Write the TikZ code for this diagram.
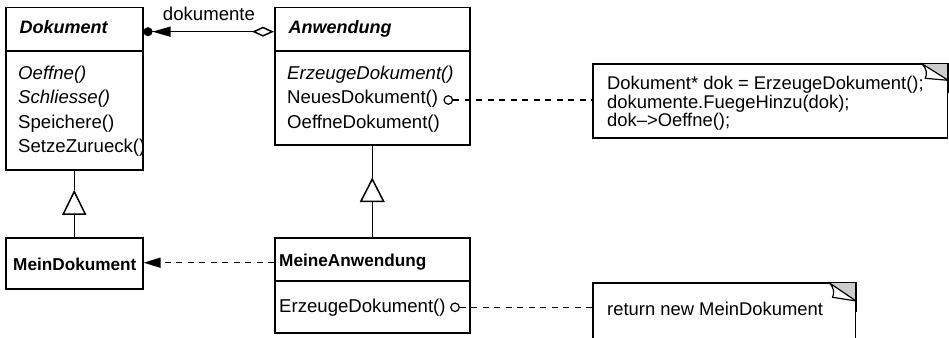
\documentclass[tikz,border=0pt]{standalone}
\usepackage{fontspec}
\setmainfont{Liberation Sans}
\usetikzlibrary{arrows.meta,calc}

\tikzset{
  umlline/.style={line width=1.5pt},
  classbox/.style={draw, line width=1.5pt, anchor=north west, inner sep=0pt},
  notebox/.style={draw, line width=1.5pt, anchor=north west, inner sep=0pt, fill=white},
  txt/.style={anchor=base west, inner sep=0pt, font=\fontsize{18.6}{22}\selectfont},
  ittxt/.style={txt, font=\fontsize{18.6}{22}\selectfont\itshape},
  abstitle/.style={anchor=base west, inner sep=0pt, font=\fontsize{18}{22}\selectfont\bfseries\itshape},
  conctitle/.style={anchor=base west, inner sep=0pt, font=\fontsize{17.2}{22}\selectfont\bfseries},
  codetxt/.style={anchor=base west, inner sep=0pt, font=\fontsize{18.4}{22}\selectfont},
  dep/.style={line width=1.4pt, dash pattern=on 6pt off 5.5pt},
  pinmark/.style={circle, draw, line width=1.2pt, fill=white, minimum size=8.5pt, inner sep=0pt},
  gentip/.style={-{Triangle[open, length=25pt, width=24pt, fill=white]}},
}

\begin{document}
\begin{tikzpicture}[x=1pt, y=-1pt]
\useasboundingbox (0,0) rectangle (949,337);
\clip (0,0) rectangle (949,337);

% ---- class boxes ----
\node[classbox, minimum width=137pt, minimum height=162pt] (dok) at (5,7) {};
\node[classbox, minimum width=195pt, minimum height=137pt] (anw) at (274,7) {};
\node[classbox, minimum width=137pt, minimum height=51pt] (mdok) at (5,237) {};
\node[classbox, minimum width=195pt, minimum height=95pt] (manw) at (274,237) {};

% compartment dividers
\draw[umlline] ($(dok.north west)+(0,44)$) -- ($(dok.north east)+(0,44)$);
\draw[umlline] ($(anw.north west)+(0,44)$) -- ($(anw.north east)+(0,44)$);
\draw[umlline] ($(manw.north west)+(0,44)$) -- ($(manw.north east)+(0,44)$);

% ---- class texts ----
\node[abstitle] (dokT) at (19.5,33.5) {Dokument};
\node[ittxt] (dokM1) at (18,79.3) {Oeffne()};
\node[ittxt] (dokM2) at (18,103.8) {Schliesse()};
\node[txt] (dokM3) at (18,128.3) {Speichere()};
\node[txt] (dokM4) at (18,152.8) {SetzeZurueck()};

\node[abstitle] (anwT) at (288.5,33.5) {Anwendung};
\node[ittxt] (anwM1) at (287,79.3) {ErzeugeDokument()};
\node[txt] (anwM2) at (287,103.8) {NeuesDokument()};
\node[txt] (anwM3) at (287,128.3) {OeffneDokument()};

\node[conctitle] (mdokT) at (13,270) {MeinDokument};
\node[conctitle] (manwT) at (279,266.7) {MeineAnwendung};
\node[txt] (manwM1) at (279,312) {ErzeugeDokument()};

% ---- notes ----
\node[notebox, minimum width=354.7pt, minimum height=73.7pt] (n1) at (592,63.3) {};
\node[notebox, minimum width=262.5pt, minimum height=80pt] (n2) at (592,282.3) {};

\foreach \n/\w/\h in {n1/27/17, n2/27.5/18.7} {
  \coordinate (\n f1) at ($(\n.north east)+(-\w,0)$);
  \coordinate (\n f2) at ($(\n.north east)+(0,\h)$);
  \fill[black!20] (\n f1) -- (\n.north east) -- (\n f2) -- cycle;
  \draw[line width=1.2pt, fill=white, line join=round]
    (\n f1) .. controls ($(\n f1)+(6,5)$) and ($(\n f1)+(6,11)$) .. ($(\n f1)+(4,15)$)
    -- (\n f2) -- cycle;
  \draw[umlline] (\n.north west) -- (\n.north east) -- ($(\n.north east)+(0,30)$);
}

\node[codetxt] (c1) at (607,89.3) {Dokument* dok = ErzeugeDokument();};
\node[codetxt] (c2) at (607,108.1) {dokumente.FuegeHinzu(dok);};
\node[codetxt] (c3) at (607,126.8) {dok–>Oeffne();};
\node[codetxt] (c4) at (607,315) {return new MeinDokument};

% ---- association Anwendung <>--> Dokument ----
\draw[umlline, {Diamond[open, length=22pt, width=10pt, fill=white]}-{Triangle[length=18pt, width=10pt] Circle[length=9pt]}]
  ($(anw.north west)+(0,24.7)$) coordinate (asA) -- ($(dok.north east)+(0,24.7)$) coordinate (asD);
\node[anchor=base, inner sep=0pt, font=\fontsize{18.6}{22}\selectfont] (asL) at (209,20.7) {dokumente};

% ---- generalizations ----
\coordinate (g1) at ($(dok.south)+(0,19.3)$);
\coordinate (g2) at ($(anw.south)+(0,32)$);
\draw[umlline] (dok.south) -- (g1);
\draw[umlline, gentip] (mdok.north) -- (g1);
\draw[umlline] (anw.south) -- (g2);
\draw[umlline, -{Triangle[open, length=24.7pt, width=25pt, fill=white]}] (manw.north) -- (g2);

% ---- dependency MeineAnwendung --> MeinDokument ----
\draw[dep, -{Triangle[length=17pt, width=10pt]}]
  ($(manw.north west)+(0,25.7)$) -- ($(mdok.north east)+(0,25.7)$);

% ---- note attachments ----
\node[pinmark] (p1) at (448.3,100) {};
\node[pinmark] (p2) at (455,307.3) {};
\draw[dep] (p1.east) -- (n1.west |- p1);
\draw[dep] (p2.east) -- (n2.west |- p2);
\end{tikzpicture}
\end{document}
